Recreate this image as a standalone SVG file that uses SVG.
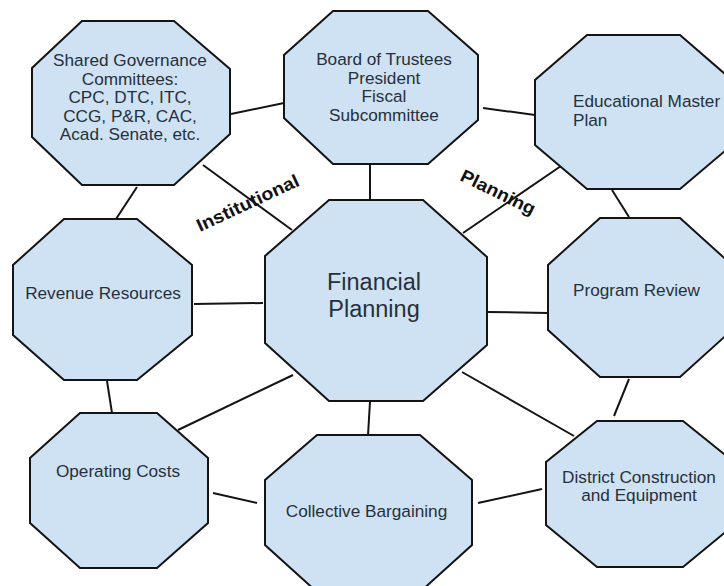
<svg xmlns="http://www.w3.org/2000/svg" width="724" height="586" viewBox="0 0 724 586">
<style>
.oct{fill:#cfe2f3;stroke:#141414;stroke-width:2;stroke-linejoin:miter}
.t{font-family:"Liberation Sans",Arial,sans-serif;font-size:17.2px;fill:#26303c}
.c{text-anchor:middle}
.big{font-size:23.5px}
.lbl{font-family:"Liberation Sans",Arial,sans-serif;font-size:18px;font-weight:bold;fill:#111}
#connectors line{stroke:#141414;stroke-width:2}
</style>
<rect width="724" height="586" fill="#ffffff"/>
<g id="connectors">
<line x1="231" y1="114" x2="284" y2="103"/>
<line x1="137" y1="187" x2="116" y2="219"/>
<line x1="203" y1="165" x2="292" y2="230"/>
<line x1="370" y1="165" x2="370" y2="200"/>
<line x1="561" y1="166" x2="463" y2="233"/>
<line x1="483" y1="108" x2="535" y2="115"/>
<line x1="612" y1="190" x2="629" y2="217"/>
<line x1="194" y1="304" x2="263" y2="303"/>
<line x1="488" y1="312" x2="548" y2="313"/>
<line x1="107" y1="381" x2="112" y2="413"/>
<line x1="178" y1="430" x2="293" y2="375"/>
<line x1="370" y1="402" x2="368" y2="435"/>
<line x1="462" y1="372" x2="574" y2="436"/>
<line x1="629" y1="379" x2="614" y2="416"/>
<line x1="213" y1="493" x2="257" y2="503"/>
<line x1="478" y1="503" x2="542" y2="489"/>
</g>
<g id="shared-governance">
<polygon class="oct" points="82,21 174,21 230,69 230,134 174,185 82,185 32,137 32,68"/>
<text class="t c" x="130" y="66">Shared Governance</text>
<text class="t c" x="130" y="84.5">Committees:</text>
<text class="t c" x="130" y="103">CPC, DTC, ITC,</text>
<text class="t c" x="130" y="121.5">CCG, P&amp;R, CAC,</text>
<text class="t c" x="130" y="140">Acad. Senate, etc.</text>
</g>
<g id="board">
<polygon class="oct" points="333,11 428,11 478,55 478,120 428,164 333,164 284,118 284,55"/>
<text class="t c" x="384" y="65">Board of Trustees</text>
<text class="t c" x="384" y="83.5">President</text>
<text class="t c" x="384" y="102">Fiscal</text>
<text class="t c" x="384" y="120.5">Subcommittee</text>
</g>
<g id="educational-master-plan">
<polygon class="oct" points="587,35 680,35 732,80 732,145 680,189 587,189 535,145 535,80"/>
<text class="t" x="573" y="107">Educational Master</text>
<text class="t" x="573" y="125.5">Plan</text>
</g>
<g id="financial-planning">
<polygon class="oct" points="329,200 423,200 487,257 487,345 423,401 329,401 265,343 265,256"/>
<text class="t c big" x="374" y="290">Financial</text>
<text class="t c big" x="374" y="317">Planning</text>
</g>
<g id="revenue-resources">
<polygon class="oct" points="64,219 137,219 192,265 192,335 137,380 64,380 13,335 13,265"/>
<text class="t c" x="103" y="299">Revenue Resources</text>
</g>
<g id="program-review">
<polygon class="oct" points="600,218 680,218 732,265 732,330 680,377 600,377 548,330 548,265"/>
<text class="t" x="573" y="296">Program Review</text>
</g>
<g id="operating-costs">
<polygon class="oct" points="80,413 157,413 208,458 208,523 157,568 80,568 30,523 30,458"/>
<text class="t c" x="118" y="477">Operating Costs</text>
</g>
<g id="collective-bargaining">
<polygon class="oct" points="317,435 420,435 472,480 472,545 420,592 317,592 265,545 265,480"/>
<text class="t c" x="366.5" y="517">Collective Bargaining</text>
</g>
<g id="district-construction">
<polygon class="oct" points="597,421 683,421 734,462 734,525 683,567 597,567 546,525 546,462"/>
<text class="t c" x="639" y="482.5">District Construction</text>
<text class="t c" x="639" y="501">and Equipment</text>
</g>
<g id="labels">
<text class="lbl" x="200" y="232" transform="rotate(-25 200 232)" textLength="111" lengthAdjust="spacingAndGlyphs">Institutional</text>
<text class="lbl" x="459" y="180" transform="rotate(26 459 180)" textLength="81" lengthAdjust="spacingAndGlyphs">Planning</text>
</g>
</svg>
